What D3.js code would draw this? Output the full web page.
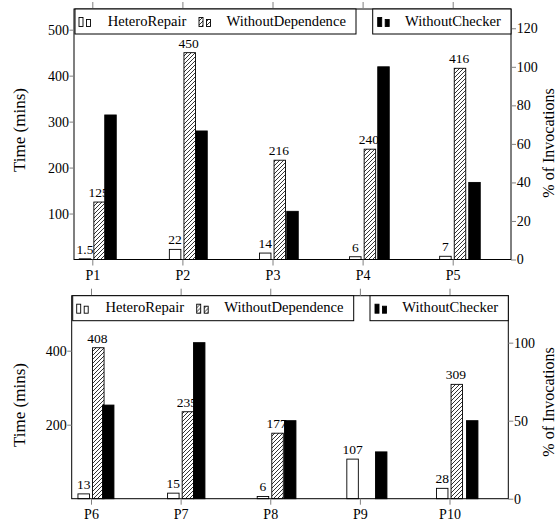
<!DOCTYPE html>
<html lang="en">
<head>
<meta charset="UTF-8">
<title>HeteroRepair ablation</title>
<script src="https://d3js.org/d3.v7.min.js"></script>
<style>
  body { margin: 0; background: #fff; }
  svg { display: block; }
  text { font-family: "Liberation Serif", "DejaVu Serif", serif; fill: #000; }
  .tick line { stroke: #808080; }
  .domain { stroke: #000; }
  .bar { stroke: #000; stroke-width: 0.9; }
  .legend-box { fill: #fff; stroke: #000; stroke-width: 1; }
</style>
</head>
<body>
<div id="chart"></div>
<script>
// top panel
const topProgs = ["P1", "P2", "P3", "P4", "P5"];
const topHetero = [1.5, 22, 14, 6, 7];
const topNoDep = [125, 450, 216, 240, 416];
const topNoCheck = [75, 66.7, 25, 100, 40];
const topTimeTicks = [100, 200, 300, 400, 500];
const topPctTicks = [0, 20, 40, 60, 80, 100, 120];

// bottom panel
const botProgs = ["P6", "P7", "P8", "P9", "P10"];
const botHetero = [13, 15, 6, 107, 28];
const botNoDep = [408, 235, 177, null, 309];
const botNoCheck = [60, 100, 50, 30, 50];
const botTimeTicks = [200, 400];
const botPctTicks = [0, 50, 100];

const seriesNames = ["HeteroRepair", "WithoutDependence", "WithoutChecker"];

const width = 556, height = 525;
const barW = 11.5, shift = 7.3;

const svg = d3.select("#chart").append("svg")
    .attr("width", width)
    .attr("height", height);

// north east lines hatch
svg.append("defs").append("pattern")
    .attr("id", "hatch")
    .attr("patternUnits", "userSpaceOnUse")
    .attr("width", 4).attr("height", 4)
  .append("path")
    .attr("d", "M-1,1 L1,-1 M0,4 L4,0 M3,5 L5,3")
    .attr("stroke", "#000")
    .attr("stroke-width", 0.8);

const fmt = v => String(v);

function drawPanel(p) {
    const g = svg.append("g");

    const x = d3.scalePoint().domain(p.progs).range(p.tickRange);
    // the % axis sits on its own x axis, slightly wider
    const xb = d3.scalePoint().domain(p.progs).range(p.blackRange);
    const yT = d3.scaleLinear().domain([0, p.timeMax]).range([p.bottom, p.top]);
    const yP = d3.scaleLinear().domain([0, p.pctMax]).range([p.bottom, p.top]);

    const rows = p.progs.map((name, i) => ({
        name: name, hetero: p.hetero[i], nodep: p.nodep[i], check: p.check[i]
    }));

    // HeteroRepair
    g.selectAll(".hr").data(rows).enter().append("rect")
        .attr("class", "bar")
        .attr("fill", "#fff")
        .attr("x", d => x(d.name) - shift - barW / 2)
        .attr("width", barW)
        .attr("y", d => yT(d.hetero))
        .attr("height", d => yT(0) - yT(d.hetero));
    g.selectAll(".hrl").data(rows).enter().append("text")
        .attr("x", d => x(d.name) - shift)
        .attr("y", d => yT(d.hetero) - 5)
        .attr("text-anchor", "middle")
        .attr("font-size", 13.5)
        .text(d => fmt(d.hetero));

    // WithoutDependence
    const nd = rows.filter(d => d.nodep != null);
    g.selectAll(".nd").data(nd).enter().append("rect")
        .attr("class", "bar")
        .attr("fill", "url(#hatch)")
        .attr("x", d => x(d.name) + shift - barW / 2)
        .attr("width", barW)
        .attr("y", d => yT(d.nodep))
        .attr("height", d => yT(0) - yT(d.nodep));
    g.selectAll(".ndl").data(nd).enter().append("text")
        .attr("x", d => x(d.name) + shift - 1)
        .attr("y", d => yT(d.nodep) - 5)
        .attr("text-anchor", "middle")
        .attr("font-size", 13.5)
        .text(d => fmt(d.nodep));

    // WithoutChecker (% of invocations)
    g.selectAll(".wc").data(rows).enter().append("rect")
        .attr("class", "bar")
        .attr("fill", "#000")
        .attr("x", d => xb(d.name) - barW / 2)
        .attr("width", barW)
        .attr("y", d => yP(d.check))
        .attr("height", d => yP(0) - yP(d.check));

    // frame
    g.append("rect")
        .attr("x", p.left).attr("y", p.top)
        .attr("width", p.right - p.left).attr("height", p.bottom - p.top)
        .attr("fill", "none").attr("stroke", "#000");

    const font = sel => sel.attr("font-family", null).attr("font-size", null);

    g.append("g")
        .attr("transform", `translate(0,${p.bottom})`)
        .call(d3.axisBottom(x).tickSize(6).tickSizeOuter(0).tickPadding(4.5))
        .call(font)
        .call(s => s.selectAll("text").attr("font-size", 14))
        .call(s => s.select(".domain").remove());
    g.append("g")
        .attr("transform", `translate(0,${p.top})`)
        .call(d3.axisTop(x).tickSize(7).tickSizeOuter(0).tickFormat(""))
        .call(s => s.select(".domain").remove());
    g.append("g")
        .attr("transform", `translate(${p.left},0)`)
        .call(d3.axisLeft(yT).tickValues(p.timeTicks).tickSize(4.5).tickSizeOuter(0).tickPadding(0.5))
        .call(font)
        .call(s => s.selectAll("text").attr("font-size", 14))
        .call(s => s.select(".domain").remove());
    g.append("g")
        .attr("transform", `translate(${p.right},0)`)
        .call(d3.axisRight(yP).tickValues(p.pctTicks).tickSize(5).tickSizeOuter(0).tickPadding(0.7))
        .call(font)
        .call(s => s.selectAll("text").attr("font-size", 14))
        .call(s => s.select(".domain").remove());

    // axis titles
    g.append("text")
        .attr("transform", `translate(25,${p.leftTitleY}) rotate(-90)`)
        .attr("text-anchor", "middle")
        .attr("font-size", 17)
        .text("Time (mins)");
    g.append("text")
        .attr("transform", `translate(554,${p.rightTitleY}) rotate(-90)`)
        .attr("text-anchor", "middle")
        .attr("font-size", 16)
        .text("% of Invocations");

    // legends
    const lg1 = g.append("g").attr("transform", `translate(${p.left + 1},${p.top})`);
    lg1.append("rect").attr("class", "legend-box")
        .attr("width", p.box1W).attr("height", 25);
    const lg2 = g.append("g").attr("transform", `translate(${p.right - p.box2W},${p.top})`);
    lg2.append("rect").attr("class", "legend-box")
        .attr("width", p.box2W).attr("height", 25);

    const entries = [
        {g: lg1, icon: 4, text: 32.8, fill: "#fff", name: seriesNames[0]},
        {g: lg1, icon: 124, text: 151.5, fill: "url(#hatch)", name: seriesNames[1]},
        {g: lg2, icon: 5, text: 32.3, fill: "#000", name: seriesNames[2]}
    ];
    entries.forEach(e => {
        e.g.append("rect").attr("class", "bar").attr("fill", e.fill)
            .attr("x", e.icon).attr("y", 8.5).attr("width", 4).attr("height", 9);
        e.g.append("rect").attr("class", "bar").attr("fill", e.fill)
            .attr("x", e.icon + 7.5).attr("y", 10.5).attr("width", 4).attr("height", 7);
        e.g.append("text")
            .attr("x", e.text).attr("y", 16.5)
            .attr("font-size", 14.6)
            .text(e.name);
    });
}

drawPanel({
    progs: topProgs, hetero: topHetero, nodep: topNoDep, check: topNoCheck,
    timeTicks: topTimeTicks, pctTicks: topPctTicks,
    left: 74, right: 511, top: 9, bottom: 259.5,
    timeMax: 545, pctMax: 130,
    tickRange: [92.3, 452.7], blackRange: [110.5, 474.5],
    box1W: 281, box2W: 138.3,
    leftTitleY: 130, rightTitleY: 143
});

drawPanel({
    progs: botProgs, hetero: botHetero, nodep: botNoDep, check: botNoCheck,
    timeTicks: botTimeTicks, pctTicks: botPctTicks,
    left: 71.7, right: 508.3, top: 295.7, bottom: 498.7,
    timeMax: 548.6, pctMax: 130.1,
    tickRange: [91, 449.5], blackRange: [108.2, 472.2],
    box1W: 281, box2W: 138.3,
    leftTitleY: 405, rightTitleY: 402
});
</script>
</body>
</html>
